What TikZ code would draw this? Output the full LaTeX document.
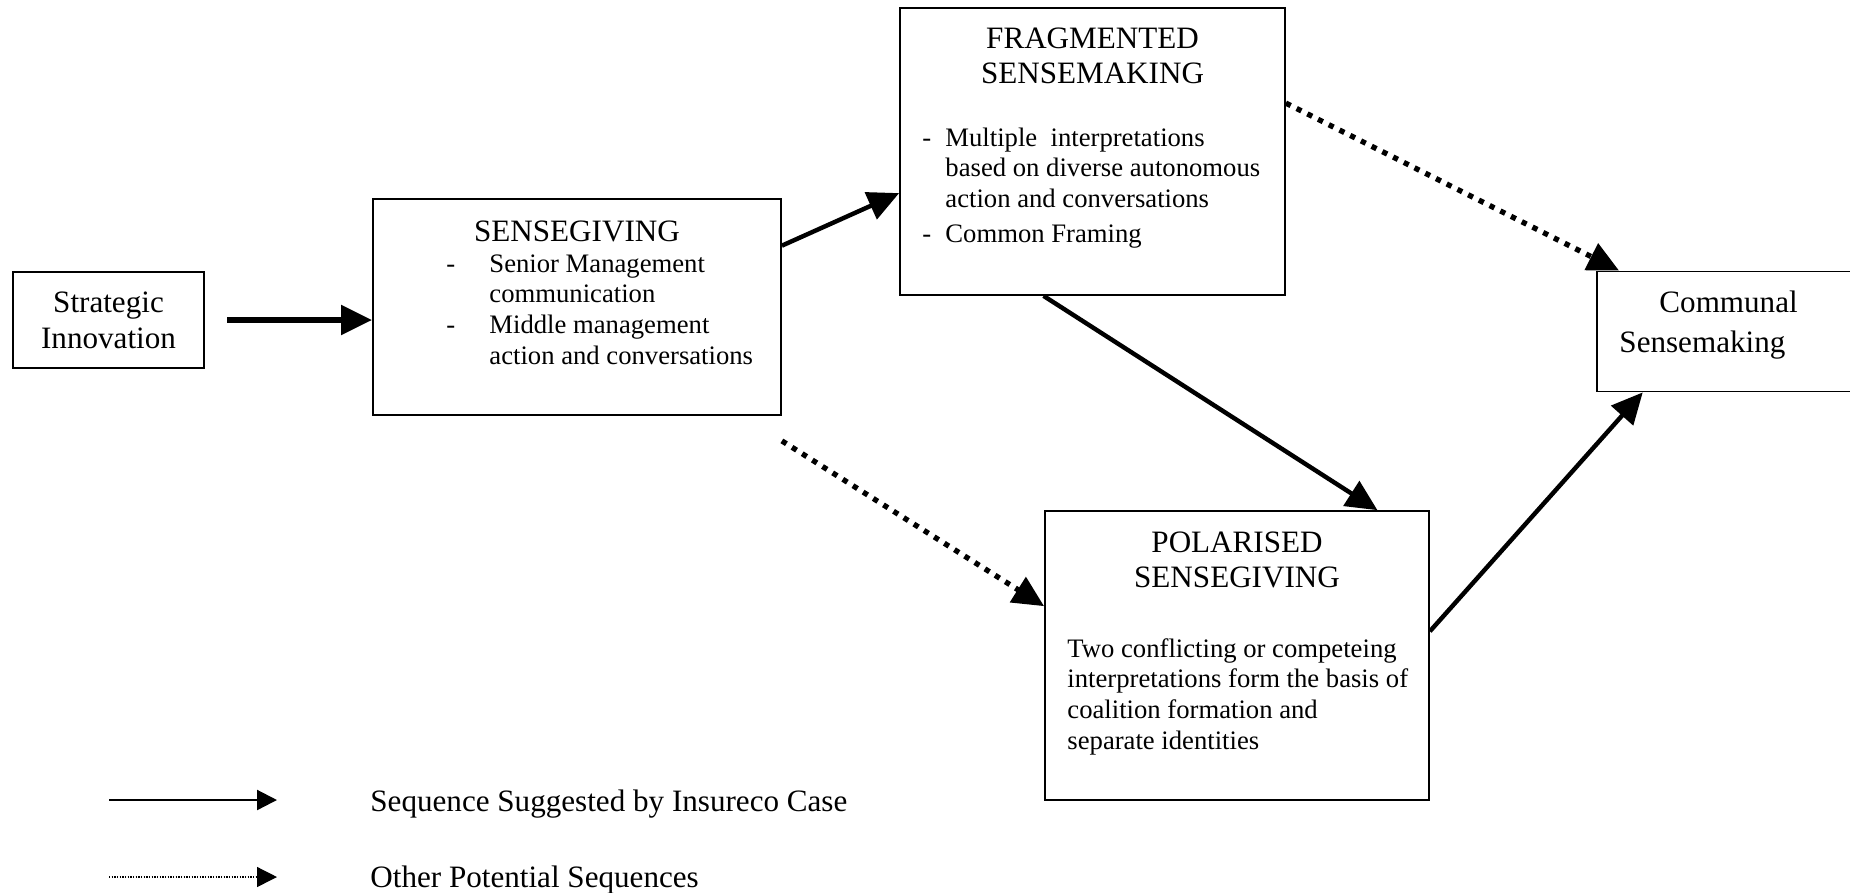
\documentclass[tikz,border=0pt]{standalone}
\usepackage{fontspec}
\setmainfont{Liberation Serif}
\usetikzlibrary{arrows.meta,positioning,calc}

\tikzset{
  box/.style={draw, line width=0.8pt, fill=white, inner sep=0pt},
  ttl/.style={inner sep=0pt, font=\fontsize{14}{16.1}\selectfont},
  txt/.style={inner sep=0pt, font=\fontsize{12}{13.8}\selectfont},
  seq/.style={line width=2pt, -{Triangle[length=14pt,width=13pt]}},
  other/.style={line width=2.4pt, dash pattern=on 2.4pt off 3pt, -{Triangle[length=14pt,width=13pt]}},
}

\begin{document}
\begin{tikzpicture}[x=0.45pt, y=-0.45pt]
    \useasboundingbox (0,0) rectangle (1850,892);

    % boxes
    \node[box, ttl, minimum width=86pt, minimum height=43.2pt, align=center] (strat) at (108.5,320) {Strategic\\Innovation};
    \node[box, minimum width=183.6pt, minimum height=97.2pt] (sgive) at (577,307) {};
    \node[box, minimum width=173.25pt, minimum height=129.15pt] (frag) at (1092.5,151.5) {};
    \node[box, minimum width=116.6pt, minimum height=54pt] (comm) at (1726.5,331.5) {};
    \node[box, minimum width=172.8pt, minimum height=130pt] (polar) at (1237,655.5) {};

    % sensegiving
    \node[ttl, anchor=base] (sgivettl) at (577,241) {SENSEGIVING};
    \node[txt, anchor=base west] (sgivetxt) at (446,272) {\begin{tabular}[t]{@{}p{19.35pt}@{}l@{}}
      -&Senior Management\\&communication\\-&Middle management\\&action and conversations\end{tabular}};

    % fragmented sensemaking
    \node[ttl, anchor=base] (fragttl) at (1092.5,48) {\begin{tabular}[t]{@{}c@{}}FRAGMENTED\\SENSEMAKING\end{tabular}};
    \node[txt, anchor=base west] (fragtxt) at (922,146) {\begin{tabular}[t]{@{}p{10.35pt}@{}l@{}}
      -&Multiple\ \ interpretations\\&based on diverse autonomous\\&action and conversations\\[1.8pt]-&Common Framing\end{tabular}};

    % polarised sensegiving
    \node[ttl, anchor=base] (polarttl) at (1237,552) {\begin{tabular}[t]{@{}c@{}}POLARISED\\SENSEGIVING\end{tabular}};
    \node[txt, anchor=base west] (polartxt) at (1067,657) {\begin{tabular}[t]{@{}l@{}}
      Two conflicting or competeing\\interpretations form the basis of\\coalition formation and\\separate identities\end{tabular}};

    % communal sensemaking
    \node[ttl, anchor=base west] (commtxt) at (1619,312) {\begin{tabular}[t]{@{}l@{}}\hspace*{18pt}Communal\\[1.9pt]Sensemaking\end{tabular}};

    % sequences
    \draw[seq, line width=2.6pt, shorten <=10pt] (strat.east) -- (strat.east -| sgive.west);
    \draw[seq] ([yshift=-21.4pt]sgive.north east) -- ([yshift=-83.7pt]frag.north west);
    \draw[seq] ([xshift=65pt]frag.south west) -- ([xshift=150pt]polar.north west);
    \draw[seq] ([yshift=-54.5pt]polar.north east) -- ([xshift=21pt]comm.south west);
    \draw[other] ([yshift=-11.25pt]sgive.south east) -- ([yshift=-43.2pt]polar.north west);
    \draw[other] ([yshift=-43.2pt]frag.north east) -- ([xshift=10.35pt]comm.north west);

    % legend
    \coordinate (lgA) at (109,800);
    \coordinate (lgB) at (277,800);
    \coordinate (lgC) at (109,877);
    \coordinate (lgD) at (277,877);
    \draw[line width=1pt, -{Triangle[length=9pt,width=9pt]}] (lgA) -- (lgB);
    \draw[line width=0.6pt, dash pattern=on 0.6pt off 0.6pt, -{Triangle[length=9pt,width=9pt]}] (lgC) -- (lgD);
    \node[ttl, anchor=base west] (lgseq) at (370,811) {Sequence Suggested by Insureco Case};
    \node[ttl, anchor=base west] (lgoth) at (370,887) {Other Potential Sequences};
\end{tikzpicture}
\end{document}
